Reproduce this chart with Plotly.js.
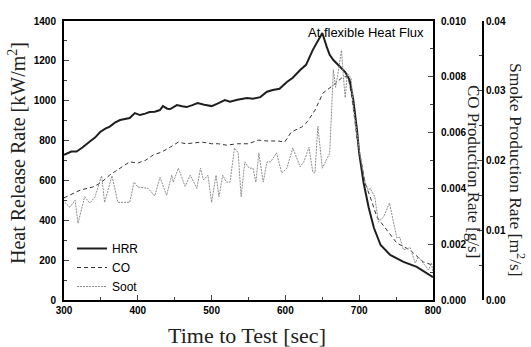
<!DOCTYPE html>
<html>
<head>
<meta charset="utf-8">
<script src="https://cdn.plot.ly/plotly-3.0.1.min.js"></script>
<style>html,body{margin:0;padding:0;background:#fff;}#chart{width:531px;height:347px;}</style>
</head>
<body>
<div id="chart"></div>
<script>
// Heat release rate [kW/m2]
const hrrTime = [300,305,310,317,325,335,342,349,356,362,369,376,383,389,396,403,410,416,423,430,434,440,444,450,453,460,466,474,481,490,500,508,518,525,535,548,556,566,575,583,592,602,610,620,628,637,642,650,656,660,665,674,681,687,692,697,700,706,713,720,729,742,760,778,800];
const hrrValues = [728,738,745,745,765,795,815,843,860,870,890,903,908,913,938,928,935,943,945,953,973,960,958,970,978,972,968,978,988,980,973,985,1003,995,1005,1013,1010,1018,1045,1054,1060,1094,1115,1154,1180,1254,1290,1340,1270,1230,1204,1170,1144,1104,1004,853,737,587,462,361,276,226,191,166,115];

// CO production rate [g/s]
const coTime = [300,310,322,339,350,362,375,389,400,410,421,432,444,455,465,475,487,500,509,520,535,550,563,575,590,599,608,622,630,640,651,665,678,685,690,694,697,708,715,724,738,751,769,787,800];
const coValues = [0.00366,0.0038,0.00394,0.00405,0.0042,0.00448,0.0047,0.00495,0.00491,0.0050,0.0052,0.0053,0.00548,0.00566,0.0056,0.00563,0.00566,0.0056,0.0056,0.00555,0.0056,0.0056,0.00573,0.0057,0.0057,0.00566,0.00602,0.0062,0.0064,0.0068,0.00742,0.0077,0.0080,0.0080,0.00728,0.00645,0.0058,0.00419,0.00369,0.00297,0.00251,0.00204,0.00179,0.00136,0.00125];

// Smoke (soot) production rate [m2/s]
const sootTime = [301,308,315,319,328,335,342,351,355,365,373,389,395,400,414,423,430,439,446,448,455,464,471,480,485,489,495,500,506,510,515,520,525,531,536,540,545,551,556,560,564,570,575,580,588,595,602,610,620,625,632,637,640,644,650,655,660,665,668,671,676,679,681,684,689,692,701,708,712,715,721,726,733,741,751,755,760,769,776,780,787,794,798,800];
const sootValues = [0.0140,0.0133,0.0143,0.0110,0.0148,0.0139,0.0148,0.0178,0.0140,0.0178,0.0140,0.0140,0.0169,0.0162,0.0160,0.0149,0.0176,0.0150,0.0179,0.0169,0.0189,0.0163,0.0179,0.0160,0.0189,0.0172,0.0179,0.0140,0.0179,0.0148,0.0179,0.0169,0.0169,0.0218,0.0211,0.0148,0.0198,0.0189,0.0189,0.0169,0.0211,0.0169,0.0198,0.0198,0.0211,0.0182,0.0189,0.0218,0.0191,0.0198,0.0219,0.0184,0.0182,0.0249,0.0189,0.0200,0.0210,0.0330,0.0305,0.0323,0.0358,0.0315,0.0290,0.0325,0.0318,0.0277,0.0208,0.0169,0.0158,0.0160,0.0148,0.0112,0.0119,0.0139,0.0089,0.0090,0.0072,0.0075,0.0053,0.0062,0.0053,0.0043,0.0053,0.0040];

const seriesNames = ['HRR','CO','Soot'];
const xTickVals = [300,400,500,600,700,800];
const yTickVals = [0,200,400,600,800,1000,1200,1400];
const coTickVals = [0,0.002,0.004,0.006,0.008,0.010];
const smokeTickVals = [0,0.01,0.02,0.03,0.04];

const tickFont = {family:'Arial, "Liberation Sans", sans-serif', size:10, color:'#000', weight:'bold'};
const serif = '"Liberation Serif", "Times New Roman", serif';

const traces = [
  {x:hrrTime, y:hrrValues, name:seriesNames[0], type:'scatter', mode:'lines',
   line:{color:'#1e1e1e', width:2}, xaxis:'x', yaxis:'y'},
  {x:coTime, y:coValues, name:seriesNames[1], type:'scatter', mode:'lines',
   line:{color:'#333', width:1, dash:'4px,3px'}, xaxis:'x', yaxis:'y2'},
  {x:sootTime, y:sootValues, name:seriesNames[2], type:'scatter', mode:'lines',
   line:{color:'#8c8c8c', width:1, dash:'2px,1px'}, xaxis:'x', yaxis:'y3'}
];

const W = 419; // plot width px (incl. extra axis area)
function px2paperX(px){ return (px-64)/W; }
function px2paperY(py){ return (300-py)/279; }

const layout = {
  width:531, height:347,
  margin:{l:64, r:48, t:21, b:47},
  paper_bgcolor:'#fff', plot_bgcolor:'#fff',
  font:{family:'Arial, "Liberation Sans", sans-serif', color:'#000'},
  showlegend:true,
  legend:{x:px2paperX(72), y:px2paperY(234), xanchor:'left', yanchor:'top',
          bgcolor:'rgba(0,0,0,0)', font:{size:12, color:'#000'}, tracegroupgap:0},
  xaxis:{domain:[0, 369/W], range:[300,800], tickvals:xTickVals, ticks:'inside', ticklen:5,
         tickwidth:1, showline:true, linewidth:2, linecolor:'#000', mirror:true,
         showgrid:false, zeroline:false, tickfont:tickFont,
         minor:{dtick:50, ticks:'inside', ticklen:3, tickwidth:1}},
  yaxis:{range:[0,1400], tickvals:yTickVals, ticks:'inside', ticklen:5, tickwidth:1,
         showline:true, linewidth:2, linecolor:'#000', showgrid:false, zeroline:false,
         tickfont:tickFont, ticklabelstandoff:4,
         minor:{dtick:100, ticks:'inside', ticklen:3, tickwidth:1}},
  yaxis2:{range:[0,0.010], tickvals:coTickVals, tickformat:'.3f', overlaying:'y', side:'right',
          anchor:'x', ticks:'inside', ticklen:5, tickwidth:1, showline:true, linewidth:2,
          linecolor:'#000', showgrid:false, zeroline:false, tickfont:tickFont, ticklabelstandoff:4,
          minor:{dtick:0.001, ticks:'inside', ticklen:3, tickwidth:1}},
  yaxis3:{range:[0,0.04], tickvals:smokeTickVals, tickformat:'.2f', overlaying:'y', side:'right',
          anchor:'free', position:1, ticks:'inside', ticklen:5, tickwidth:1, showline:true,
          linewidth:2, linecolor:'#000', showgrid:false, zeroline:false, tickfont:tickFont,
          minor:{dtick:0.005, ticks:'inside', ticklen:3, tickwidth:1}},
  annotations:[
    {text:'At flexible Heat Flux', xref:'paper', yref:'paper', x:px2paperX(426), y:px2paperY(33),
     xanchor:'right', yanchor:'middle', showarrow:false, font:{size:13, color:'#000'}},
    {text:'Heat Release Rate [kW/m<sup>2</sup>]', xref:'paper', yref:'paper',
     x:px2paperX(17), y:px2paperY(153), xanchor:'center', yanchor:'middle', textangle:-90,
     showarrow:false, font:{family:serif, size:20, color:'#222'}},
    {text:'Time to Test [sec]', xref:'paper', yref:'paper',
     x:px2paperX(247), y:px2paperY(335), xanchor:'center', yanchor:'middle',
     showarrow:false, font:{family:serif, size:22, color:'#222'}},
    {text:'CO Production Rate [g/s]', xref:'paper', yref:'paper',
     x:px2paperX(474), y:px2paperY(171), xanchor:'center', yanchor:'middle', textangle:90,
     showarrow:false, font:{family:serif, size:17, color:'#222'}},
    {text:'Smoke Production Rate [m<sup>2</sup>/s]', xref:'paper', yref:'paper',
     x:px2paperX(517), y:px2paperY(170), xanchor:'center', yanchor:'middle', textangle:90,
     showarrow:false, font:{family:serif, size:17.5, color:'#222'}}
  ]
};

Plotly.newPlot('chart', traces, layout, {displayModeBar:false, staticPlot:true});
</script>
</body>
</html>
